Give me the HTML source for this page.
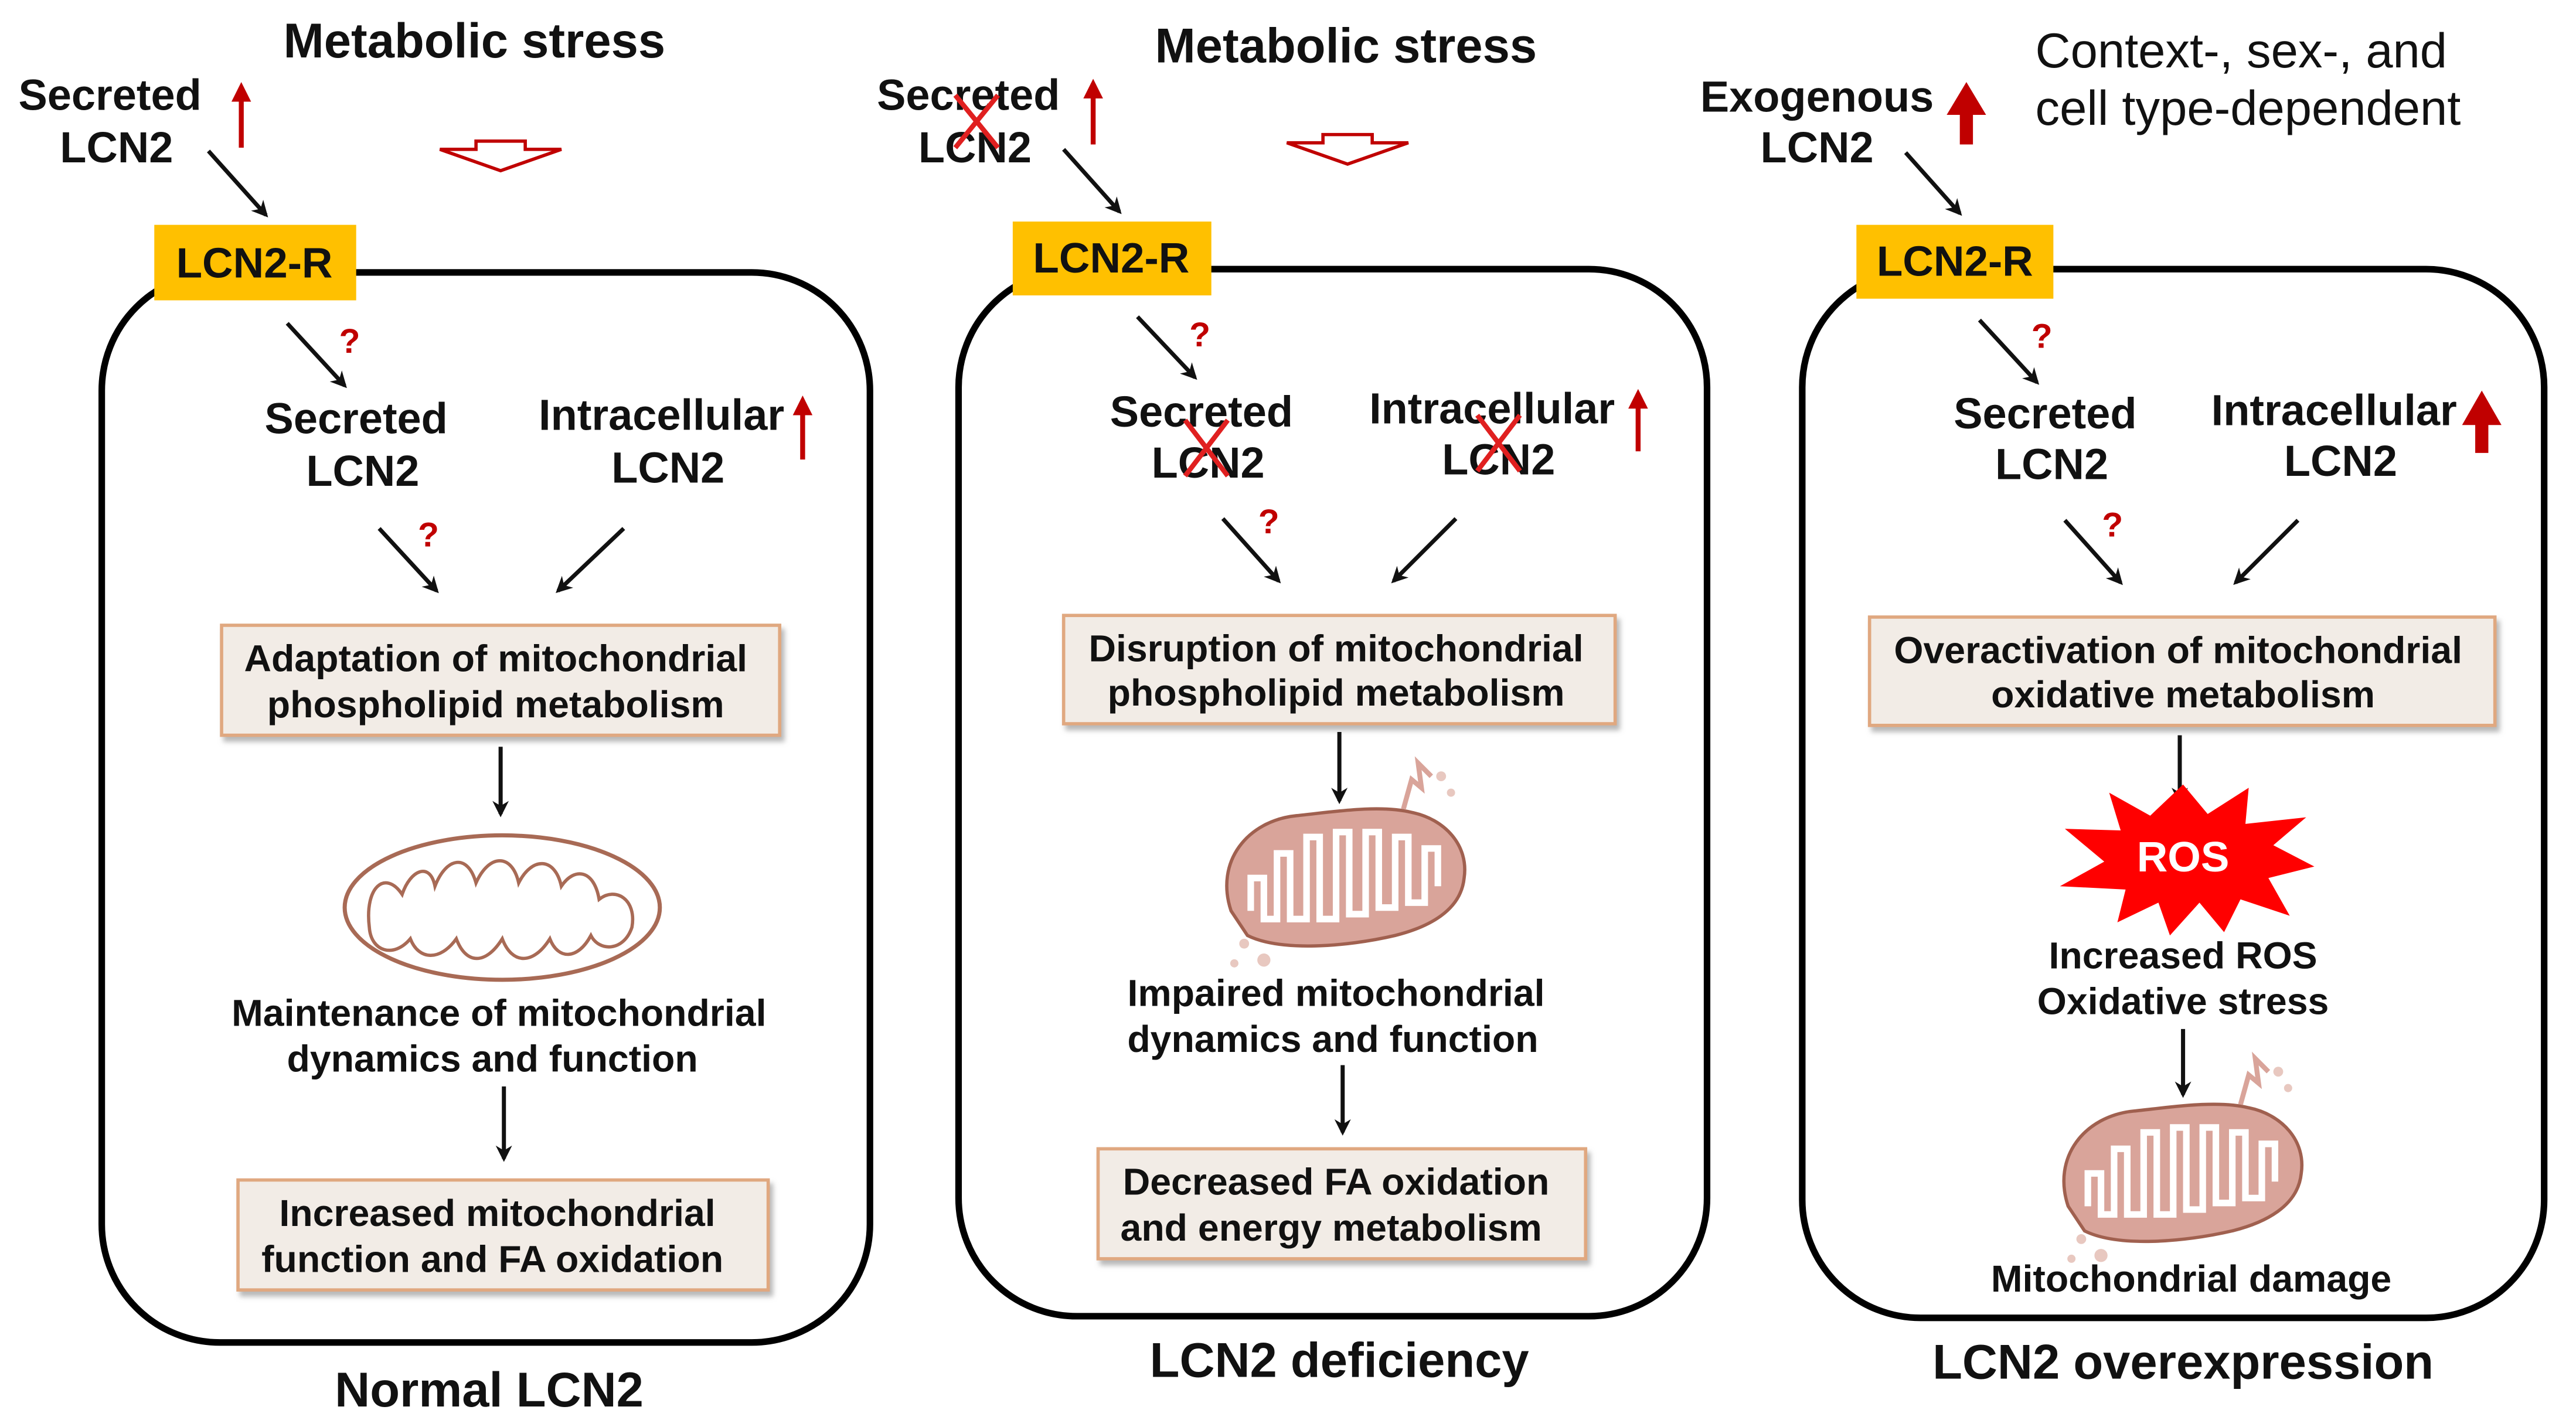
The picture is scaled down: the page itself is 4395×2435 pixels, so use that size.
<!DOCTYPE html>
<html><head><meta charset="utf-8"><style>
html,body{margin:0;padding:0;background:#fff;}
svg{display:block}
text{font-family:"Liberation Sans",Arial,sans-serif;font-weight:bold;fill:#111;}
</style></head><body>
<svg width="4395" height="2435" viewBox="0 0 1569.4 869.5" preserveAspectRatio="xMinYMin meet" xmlns="http://www.w3.org/2000/svg">
<defs>
<marker id="ab" markerWidth="10" markerHeight="10" refX="8" refY="5" orient="auto" markerUnits="userSpaceOnUse"><path d="M0,0 L10,5 L0,10 L3,5 z" fill="#111"/></marker>
<marker id="ar" markerWidth="12" markerHeight="12" refX="9" refY="6" orient="auto" markerUnits="userSpaceOnUse"><path d="M0,0 L12,6 L0,12 z" fill="#C00000"/></marker>
<filter id="sh" x="-5%" y="-5%" width="115%" height="125%"><feDropShadow dx="2" dy="3" stdDeviation="1.5" flood-color="#999" flood-opacity="0.7"/></filter>
<g id="mitoD">
<path d="M-70,20 C-80,-10 -60,-35 -30,-38 C-10,-40 20,-45 40,-40 C60,-36 75,-20 72,0 C70,20 50,30 30,35 C0,42 -40,45 -60,35 Z" fill="#D9A49A" stroke="#A0604F" stroke-width="2"/>
<path d="M-58,20 L-58,0 L-50,0 L-50,25 L-42,25 L-42,-15 L-34,-15 L-34,25 L-24,25 L-24,-25 L-16,-25 L-16,25 L-6,25 L-6,-28 L2,-28 L2,22 L12,22 L12,-28 L20,-28 L20,18 L30,18 L30,-25 L38,-25 L38,15 L48,15 L48,-18 L56,-18 L56,5" fill="none" stroke="#fff" stroke-width="4"/>
<path d="M35,-42 L40,-60 L46,-55 L44,-70 L52,-62" fill="none" stroke="#D9A49A" stroke-width="3"/>
<circle cx="58" cy="-62" r="3" fill="#E8C8C0"/><circle cx="64" cy="-52" r="2.5" fill="#E8C8C0"/>
<circle cx="-62" cy="40" r="3" fill="#E8C8C0"/><circle cx="-50" cy="50" r="4" fill="#E8C8C0"/><circle cx="-68" cy="52" r="2.5" fill="#E8C8C0"/>
</g>
</defs>

<rect x="62" y="166" width="468" height="652" rx="72" fill="none" stroke="#000" stroke-width="4"/>
<rect x="584" y="164" width="456" height="638" rx="72" fill="none" stroke="#000" stroke-width="4"/>
<rect x="1098" y="164" width="452" height="639" rx="72" fill="none" stroke="#000" stroke-width="4"/>

<!-- Panel 1 -->
<text x="289" y="35" font-size="29.7" text-anchor="middle">Metabolic stress</text>
<polygon points="290,86 320,86 320,91 342,91 305,104 268,91 290,91" fill="none" stroke="#C00000" stroke-width="2"/>
<text x="67" y="67" font-size="26.4" text-anchor="middle">Secreted</text>
<text x="71" y="99" font-size="26.4" text-anchor="middle">LCN2</text>
<line x1="147" y1="90" x2="147" y2="53" stroke="#C00000" stroke-width="3" marker-end="url(#ar)"/>
<line x1="127" y1="92" x2="162" y2="131" stroke="#111" stroke-width="2.5" marker-end="url(#ab)"/>
<rect x="94" y="137" width="123" height="46" fill="#FFC000"/>
<text x="155" y="169" font-size="26" text-anchor="middle">LCN2-R</text>
<line x1="175" y1="197" x2="210" y2="235" stroke="#111" stroke-width="2.5" marker-end="url(#ab)"/>
<text x="213" y="215" font-size="21" style="fill:#C00000" text-anchor="middle">?</text>
<text x="217" y="264" font-size="26.4" text-anchor="middle">Secreted</text>
<text x="221" y="296" font-size="26.4" text-anchor="middle">LCN2</text>
<text x="403" y="262" font-size="26.4" text-anchor="middle">Intracellular</text>
<text x="407" y="294" font-size="26.4" text-anchor="middle">LCN2</text>
<line x1="489" y1="280" x2="489" y2="244" stroke="#C00000" stroke-width="3" marker-end="url(#ar)"/>
<line x1="231" y1="322" x2="266" y2="360" stroke="#111" stroke-width="2.5" marker-end="url(#ab)"/>
<text x="261" y="333" font-size="21" style="fill:#C00000" text-anchor="middle">?</text>
<line x1="380" y1="322" x2="340" y2="360" stroke="#111" stroke-width="2.5" marker-end="url(#ab)"/>
<rect x="135" y="381" width="340" height="67" fill="#F2ECE6" stroke="#E0A880" stroke-width="2" filter="url(#sh)"/>
<text x="302" y="409" font-size="23" text-anchor="middle">Adaptation of mitochondrial</text>
<text x="302" y="437" font-size="23" text-anchor="middle">phospholipid metabolism</text>
<line x1="305" y1="455" x2="305" y2="496" stroke="#111" stroke-width="2.5" marker-end="url(#ab)"/>
<ellipse cx="306" cy="553" rx="96" ry="44" fill="#fff" stroke="#A86A55" stroke-width="2.5"/>
<path d="M225,565 C222,540 235,530 245,545 C250,530 262,525 265,540 C272,522 285,520 290,538 C298,520 312,520 316,538 C324,522 338,522 342,540 C350,528 362,530 365,548 C375,540 388,548 385,565 C380,580 365,580 360,570 C352,585 340,585 335,572 C325,588 312,588 306,572 C296,588 284,588 278,572 C268,586 255,585 250,572 C240,584 226,580 225,565 Z" fill="none" stroke="#A86A55" stroke-width="2"/>
<text x="304" y="625" font-size="23" text-anchor="middle">Maintenance of mitochondrial</text>
<text x="300" y="653" font-size="23" text-anchor="middle">dynamics and function</text>
<line x1="307" y1="662" x2="307" y2="706" stroke="#111" stroke-width="2.5" marker-end="url(#ab)"/>
<rect x="145" y="719" width="323" height="67" fill="#F2ECE6" stroke="#E0A880" stroke-width="2" filter="url(#sh)"/>
<text x="303" y="747" font-size="23" text-anchor="middle">Increased mitochondrial</text>
<text x="300" y="775" font-size="23" text-anchor="middle">function and FA oxidation</text>
<text x="298" y="857" font-size="29.7" text-anchor="middle">Normal LCN2</text>

<!-- Panel 2 -->
<text x="820" y="38" font-size="29.7" text-anchor="middle">Metabolic stress</text>
<polygon points="806,82 836,82 836,87 858,87 821,100 784,87 806,87" fill="none" stroke="#C00000" stroke-width="2"/>
<text x="590" y="67" font-size="26.4" text-anchor="middle">Secreted</text>
<text x="594" y="99" font-size="26.4" text-anchor="middle">LCN2</text>
<path d="M582,58 L608,90 M608,58 L582,90" stroke="#E02020" stroke-width="3"/>
<line x1="666" y1="88" x2="666" y2="51" stroke="#C00000" stroke-width="3" marker-end="url(#ar)"/>
<line x1="648" y1="91" x2="682" y2="129" stroke="#111" stroke-width="2.5" marker-end="url(#ab)"/>
<rect x="617" y="135" width="121" height="45" fill="#FFC000"/>
<text x="677" y="166" font-size="26" text-anchor="middle">LCN2-R</text>
<line x1="693" y1="193" x2="728" y2="230" stroke="#111" stroke-width="2.5" marker-end="url(#ab)"/>
<text x="731" y="211" font-size="21" style="fill:#C00000" text-anchor="middle">?</text>
<text x="732" y="260" font-size="26.4" text-anchor="middle">Secreted</text>
<text x="736" y="291" font-size="26.4" text-anchor="middle">LCN2</text>
<path d="M722,256 L748,290 M748,256 L722,290" stroke="#E02020" stroke-width="3"/>
<text x="909" y="258" font-size="26.4" text-anchor="middle">Intracellular</text>
<text x="913" y="289" font-size="26.4" text-anchor="middle">LCN2</text>
<path d="M900,253 L926,287 M926,253 L900,287" stroke="#E02020" stroke-width="3"/>
<line x1="998" y1="275" x2="998" y2="240" stroke="#C00000" stroke-width="3" marker-end="url(#ar)"/>
<line x1="745" y1="316" x2="779" y2="354" stroke="#111" stroke-width="2.5" marker-end="url(#ab)"/>
<text x="773" y="325" font-size="21" style="fill:#C00000" text-anchor="middle">?</text>
<line x1="887" y1="316" x2="849" y2="354" stroke="#111" stroke-width="2.5" marker-end="url(#ab)"/>
<rect x="648" y="375" width="336" height="66" fill="#F2ECE6" stroke="#E0A880" stroke-width="2" filter="url(#sh)"/>
<text x="814" y="403" font-size="23" text-anchor="middle">Disruption of mitochondrial</text>
<text x="814" y="430" font-size="23" text-anchor="middle">phospholipid metabolism</text>
<line x1="816" y1="446" x2="816" y2="488" stroke="#111" stroke-width="2.5" marker-end="url(#ab)"/>
<use href="#mitoD" transform="translate(820,535)"/>
<text x="814" y="613" font-size="23" text-anchor="middle">Impaired mitochondrial</text>
<text x="812" y="641" font-size="23" text-anchor="middle">dynamics and function</text>
<line x1="818" y1="649" x2="818" y2="690" stroke="#111" stroke-width="2.5" marker-end="url(#ab)"/>
<rect x="669" y="700" width="297" height="67" fill="#F2ECE6" stroke="#E0A880" stroke-width="2" filter="url(#sh)"/>
<text x="814" y="728" font-size="23" text-anchor="middle">Decreased FA oxidation</text>
<text x="811" y="756" font-size="23" text-anchor="middle">and energy metabolism</text>
<text x="816" y="839" font-size="29.7" text-anchor="middle">LCN2 deficiency</text>

<!-- Panel 3 -->
<text x="1240" y="41" font-size="29.7" style="font-weight:normal">Context-, sex-, and</text>
<text x="1240" y="76" font-size="29.7" style="font-weight:normal">cell type-dependent</text>
<text x="1107" y="68" font-size="26.4" text-anchor="middle">Exogenous</text>
<text x="1107" y="99" font-size="26.4" text-anchor="middle">LCN2</text>
<path d="M1194,88 L1194,70 L1186,70 L1198,50 L1210,70 L1202,70 L1202,88 Z" fill="#C00000"/>
<line x1="1161" y1="93" x2="1194" y2="130" stroke="#111" stroke-width="2.5" marker-end="url(#ab)"/>
<rect x="1131" y="137" width="120" height="45" fill="#FFC000"/>
<text x="1191" y="168" font-size="26" text-anchor="middle">LCN2-R</text>
<line x1="1206" y1="195" x2="1241" y2="233" stroke="#111" stroke-width="2.5" marker-end="url(#ab)"/>
<text x="1244" y="212" font-size="21" style="fill:#C00000" text-anchor="middle">?</text>
<text x="1246" y="261" font-size="26.4" text-anchor="middle">Secreted</text>
<text x="1250" y="292" font-size="26.4" text-anchor="middle">LCN2</text>
<text x="1422" y="259" font-size="26.4" text-anchor="middle">Intracellular</text>
<text x="1426" y="290" font-size="26.4" text-anchor="middle">LCN2</text>
<path d="M1508,276 L1508,259 L1500,259 L1512,238 L1524,259 L1516,259 L1516,276 Z" fill="#C00000"/>
<line x1="1258" y1="317" x2="1292" y2="355" stroke="#111" stroke-width="2.5" marker-end="url(#ab)"/>
<text x="1287" y="327" font-size="21" style="fill:#C00000" text-anchor="middle">?</text>
<line x1="1400" y1="317" x2="1362" y2="355" stroke="#111" stroke-width="2.5" marker-end="url(#ab)"/>
<rect x="1139" y="376" width="381" height="66" fill="#F2ECE6" stroke="#E0A880" stroke-width="2" filter="url(#sh)"/>
<text x="1327" y="404" font-size="23" text-anchor="middle">Overactivation of mitochondrial</text>
<text x="1330" y="431" font-size="23" text-anchor="middle">oxidative metabolism</text>
<line x1="1328" y1="448" x2="1328" y2="488" stroke="#111" stroke-width="2.5" marker-end="url(#ab)"/>
<polygon points="1330,478 1345,496 1370,480 1368,502 1405,498 1385,515 1410,528 1382,535 1395,558 1365,548 1355,568 1340,550 1322,570 1315,550 1290,562 1295,542 1255,540 1282,525 1258,505 1292,506 1285,483 1310,497" fill="#FF0000"/>
<text x="1330" y="531" font-size="26" text-anchor="middle" style="fill:#fff">ROS</text>
<text x="1330" y="590" font-size="23" text-anchor="middle">Increased ROS</text>
<text x="1330" y="618" font-size="23" text-anchor="middle">Oxidative stress</text>
<line x1="1330" y1="627" x2="1330" y2="667" stroke="#111" stroke-width="2.5" marker-end="url(#ab)"/>
<use href="#mitoD" transform="translate(1330,715)"/>
<text x="1335" y="787" font-size="23" text-anchor="middle">Mitochondrial damage</text>
<text x="1330" y="840" font-size="29.7" text-anchor="middle">LCN2 overexpression</text>
</svg>
</body></html>
